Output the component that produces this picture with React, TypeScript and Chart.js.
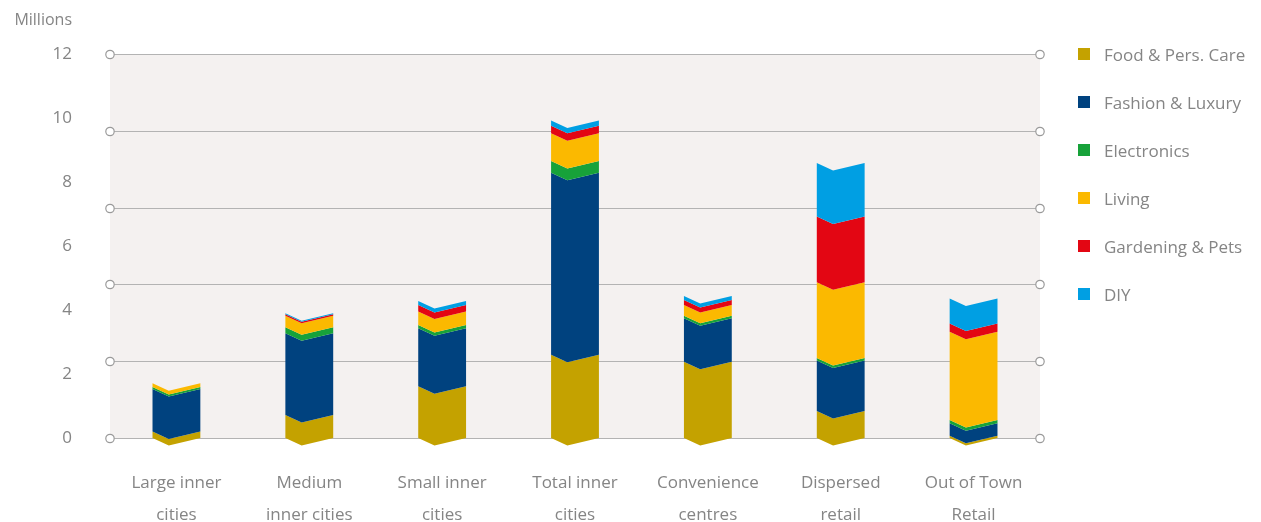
import React, { useEffect, useRef } from "react";
import { Chart, registerables } from "chart.js";

Chart.register(...registerables);

const categories: string[][] = [
  ["Large inner", "cities"],
  ["Medium", "inner cities"],
  ["Small inner", "cities"],
  ["Total inner", "cities"],
  ["Convenience", "centres"],
  ["Dispersed", "retail"],
  ["Out of Town", "Retail"],
];

const seriesNames = [
  "Food & Pers. Care",
  "Fashion & Luxury",
  "Electronics",
  "Living",
  "Gardening & Pets",
  "DIY",
];

const food = [0.2, 0.72, 1.62, 2.6, 2.38, 0.84, 0.07];
const fashion = [1.33, 2.55, 1.81, 5.69, 1.36, 1.58, 0.39];
const electronics = [0.06, 0.19, 0.1, 0.37, 0.08, 0.08, 0.1];
const living = [0.12, 0.36, 0.42, 0.86, 0.34, 2.37, 2.76];
const gardening = [0.0, 0.05, 0.21, 0.24, 0.15, 2.05, 0.26];
const diy = [0.0, 0.03, 0.12, 0.16, 0.13, 1.67, 0.78];

const seriesValues = [food, fashion, electronics, living, gardening, diy];
const seriesColors = ["#c4a200", "#00427f", "#17a23a", "#fbb900", "#e30613", "#009fe3"];

const yTickStep = 2;
const yMax = 12;
const gridValues = [0, 2.4, 4.8, 7.2, 9.6, 12];

const FONT = "'Open Sans', 'Noto Sans', sans-serif";
const TEXT = "#858585";

// Plot background, grid lines with circular end caps, and the unit caption
const backdropPlugin = {
  id: "backdrop",
  beforeDatasetsDraw(chart: any) {
    const { ctx, chartArea } = chart;
    const y = chart.scales.y;
    ctx.save();
    ctx.fillStyle = "#f4f1f0";
    ctx.fillRect(chartArea.left, chartArea.top, chartArea.right - chartArea.left, chartArea.bottom - chartArea.top);
    ctx.strokeStyle = "#b3b3b3";
    ctx.lineWidth = 1.2;
    for (const v of gridValues) {
      const py = Math.round(y.getPixelForValue(v)) + 0.5;
      ctx.beginPath();
      ctx.moveTo(chartArea.left, py);
      ctx.lineTo(chartArea.right, py);
      ctx.stroke();
    }
    ctx.fillStyle = TEXT;
    ctx.font = `16px ${FONT}`;
    ctx.textAlign = "right";
    ctx.textBaseline = "middle";
    ctx.fillText("Millions", 72, 20);
    ctx.restore();
  },
  afterDatasetsDraw(chart: any) {
    const { ctx, chartArea } = chart;
    const y = chart.scales.y;
    ctx.save();
    // stacked segments with chevron-shaped edges
    chart.data.datasets.forEach((_ds: any, i: number) => {
      const meta = chart.getDatasetMeta(i);
      if (meta.hidden) return;
      meta.data.forEach((bar: any) => {
        const p = bar.getProps(["x", "y", "base", "width"], true);
        const L = p.x - p.width / 2;
        const R = p.x + p.width / 2;
        const M = L + p.width * 0.34;
        const d = 7.5;
        ctx.fillStyle = seriesColors[i];
        ctx.beginPath();
        ctx.moveTo(L, p.y);
        ctx.lineTo(M, p.y + d);
        ctx.lineTo(R, p.y);
        ctx.lineTo(R, p.base);
        ctx.lineTo(M, p.base + d);
        ctx.lineTo(L, p.base);
        ctx.closePath();
        ctx.fill();
      });
    });
    // grid line end markers
    ctx.strokeStyle = "#9a9a9a";
    ctx.fillStyle = "#ffffff";
    ctx.lineWidth = 1.2;
    for (const v of gridValues) {
      const py = Math.round(y.getPixelForValue(v)) + 0.5;
      for (const px of [chartArea.left, chartArea.right]) {
        ctx.beginPath();
        ctx.arc(px, py, 4.2, 0, Math.PI * 2);
        ctx.fill();
        ctx.stroke();
      }
    }
    ctx.restore();
  },
  beforeDatasetDraw() {
    return false;
  },
};

export default function App() {
  const canvasRef = useRef<HTMLCanvasElement | null>(null);

  useEffect(() => {
    if (!canvasRef.current) return;
    const chart = new Chart(canvasRef.current, {
      type: "bar",
      data: {
        labels: categories,
        datasets: seriesNames.map((name, i) => ({
          label: name,
          data: seriesValues[i],
          backgroundColor: seriesColors[i],
          borderWidth: 0,
          categoryPercentage: 1,
          barPercentage: 0.36,
        })),
      },
      options: {
        responsive: false,
        animation: false,
        events: [],
        layout: { padding: { top: 54, right: 221, bottom: 0, left: 0 } },
        plugins: {
          legend: { display: false },
          tooltip: { enabled: false },
        },
        scales: {
          x: {
            stacked: true,
            grid: { display: false, drawTicks: false },
            border: { display: false },
            ticks: {
              color: TEXT,
              padding: 29,
              maxRotation: 0,
              autoSkip: false,
              font: { family: FONT, size: 17, lineHeight: "32px" },
            },
            afterFit(scale: any) {
              scale.height = 84;
            },
          },
          y: {
            stacked: true,
            min: 0,
            max: yMax,
            grid: { display: false, drawTicks: false },
            border: { display: false },
            ticks: {
              stepSize: yTickStep,
              color: TEXT,
              padding: 38,
              font: { family: FONT, size: 17 },
            },
            afterFit(scale: any) {
              scale.width = 110;
            },
          },
        },
      },
      plugins: [backdropPlugin],
    });
    return () => chart.destroy();
  }, []);

  return (
    <div style={{ position: "absolute", left: 0, top: 0, width: 1261, height: 522, background: "#fff" }}>
      <canvas ref={canvasRef} width={1261} height={522} style={{ position: "absolute", left: 0, top: 0 }} />
      {seriesNames.map((name, i) => (
        <div
          key={name}
          style={{
            position: "absolute",
            left: 1078,
            top: 54 + 48 * i - 14,
            height: 28,
            display: "flex",
            alignItems: "center",
            fontFamily: FONT,
            fontSize: 17,
            color: TEXT,
            whiteSpace: "nowrap",
          }}
        >
          <span style={{ display: "inline-block", width: 12, height: 12, background: seriesColors[i], marginRight: 14 }} />
          <span>{name}</span>
        </div>
      ))}
    </div>
  );
}
